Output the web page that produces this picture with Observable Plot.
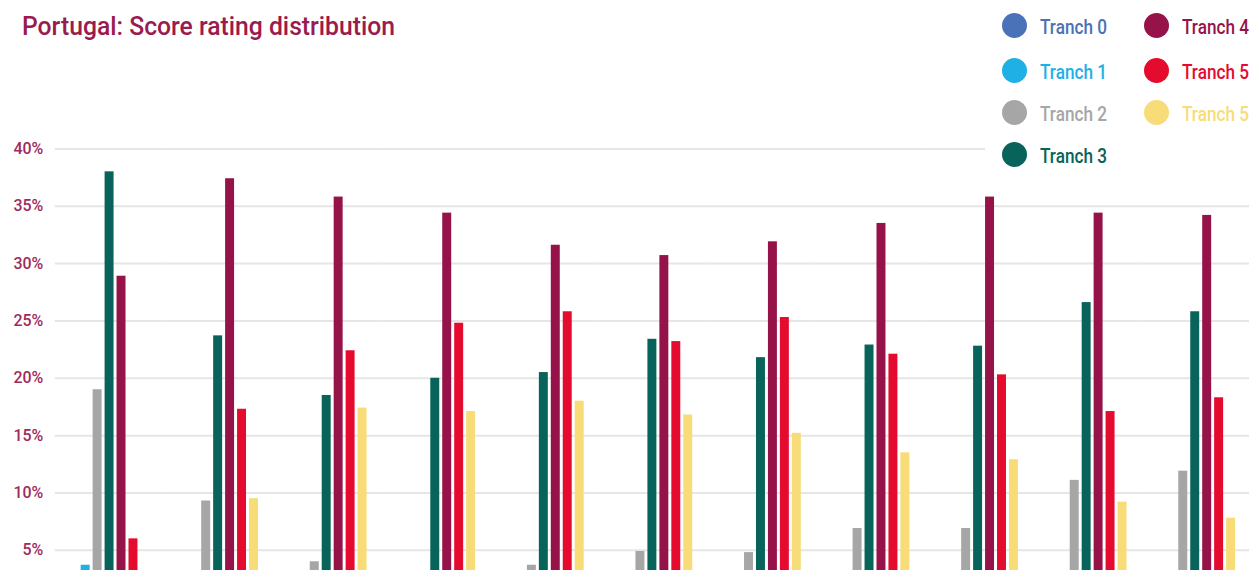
<!DOCTYPE html>
<html>
<head>
<meta charset="utf-8">
<script src="https://cdn.jsdelivr.net/npm/d3@7"></script>
<script src="https://cdn.jsdelivr.net/npm/@observablehq/plot@0.6"></script>
<style>
html, body { margin: 0; padding: 0; background: #fff; overflow: hidden; width: 1252px; height: 570px; }
#wrap { position: relative; width: 1252px; height: 570px; overflow: hidden; font-family: Roboto, "Noto Sans", sans-serif; }
#chart { position: absolute; left: 0; top: 0; }
#title { position: absolute; left: 22px; top: 12px; font-size: 25px; font-weight: 500; color: #9a1b4e; white-space: nowrap; transform-origin: 0 0; }
#legend { position: absolute; left: 985px; top: 0; width: 267px; height: 176px; background: #fff; }
.item { position: absolute; height: 26px; }
.dot { position: absolute; width: 25px; height: 25px; border-radius: 50%; left: 0; top: 0; }
.lab { position: absolute; left: 38px; top: 1px; line-height: 26px; font-size: 20px; font-weight: 500; white-space: nowrap; transform-origin: 0 50%; }
</style>
</head>
<body>
<div id="wrap">
  <div id="chart"></div>
  <div id="title">Portugal: Score rating distribution</div>
  <div id="legend"></div>
</div>
<script>
// Categories (x-axis groups, hidden below the visible crop)
const groups = ["G1", "G2", "G3", "G4", "G5", "G6", "G7", "G8", "G9", "G10", "G11"];
// Series keys, legend labels and colours
const seriesKeys = ["t0", "t1", "t2", "t3", "t4", "t5", "t5b"];
const seriesLabels = ["Tranch 0", "Tranch 1", "Tranch 2", "Tranch 3", "Tranch 4", "Tranch 5", "Tranch 5"];
const seriesColors = ["#4a72b8", "#1fb0e6", "#a6a6a6", "#08635b", "#961349", "#e40b2e", "#f7dc78"];
// Series values (%)
const tranch0 = [1.0, 0.8, 0.6, 0.5, 0.6, 0.8, 0.7, 0.9, 0.8, 1.0, 1.1];
const tranch1 = [3.7, 1.8, 1.5, 1.2, 1.4, 1.6, 1.5, 1.9, 1.8, 2.2, 2.4];
const tranch2 = [19.0, 9.3, 4.0, 3.0, 3.7, 4.9, 4.8, 6.9, 6.9, 11.1, 11.9];
const tranch3 = [38.0, 23.7, 18.5, 20.0, 20.5, 23.4, 21.8, 22.9, 22.8, 26.6, 25.8];
const tranch4 = [28.9, 37.4, 35.8, 34.4, 31.6, 30.7, 31.9, 33.5, 35.8, 34.4, 34.2];
const tranch5 = [6.0, 17.3, 22.4, 24.8, 25.8, 23.2, 25.3, 22.1, 20.3, 17.1, 18.3];
const tranch5b = [2.0, 9.5, 17.4, 17.1, 18.0, 16.8, 15.2, 13.5, 12.9, 9.2, 7.8];
// Y tick values
const yTicks = [5, 10, 15, 20, 25, 30, 35, 40];

const seriesValues = [tranch0, tranch1, tranch2, tranch3, tranch4, tranch5, tranch5b];
const data = groups.flatMap((g, i) => seriesKeys.map((k, j) => ({group: g, key: k, value: seriesValues[j][i]})));

const chart = Plot.plot({
  width: 1257,
  height: 650,
  marginTop: 149,
  marginBottom: 40.4,
  marginLeft: 52,
  marginRight: 0,
  style: {fontFamily: "Roboto, 'Noto Sans', sans-serif", background: "transparent"},
  fx: {domain: groups, padding: 0, axis: null},
  x: {domain: seriesKeys, paddingInner: 0.23, paddingOuter: 0.827, axis: null},
  y: {domain: [0, 40], axis: null},
  color: {domain: seriesKeys, range: seriesColors},
  marks: [
    Plot.gridY(yTicks, {stroke: "#e6e6e6", strokeOpacity: 1, strokeWidth: 2}),
    Plot.axisY(yTicks, {tickSize: 0, tickPadding: 12, tickFormat: d => d + "%", fill: "#a02a5c", fontSize: 16, fontWeight: 500, label: null}),
    Plot.barY(data, {fx: "group", x: "key", y: "value", fill: "key"})
  ]
});
document.getElementById("chart").appendChild(chart);

// Legend
const legend = document.getElementById("legend");
const legendPos = [
  [17, 13], [17, 58], [17, 100], [17, 142],
  [159, 13], [159, 58], [159, 100]
];
const labs = [];
seriesKeys.forEach((k, s) => {
  const it = document.createElement("div");
  it.className = "item";
  it.style.left = legendPos[s][0] + "px";
  it.style.top = legendPos[s][1] + "px";
  const dot = document.createElement("div");
  dot.className = "dot";
  dot.style.background = seriesColors[s];
  const lab = document.createElement("div");
  lab.className = "lab";
  lab.style.color = seriesColors[s];
  lab.textContent = seriesLabels[s];
  it.appendChild(dot);
  it.appendChild(lab);
  legend.appendChild(it);
  labs.push(lab);
});
// condense text to match the reference's narrow typeface
const lw = labs[0].getBoundingClientRect().width;
const ls = 67 / lw;
labs.forEach(l => l.style.transform = `scaleX(${ls})`);
const t = document.getElementById("title");
const tw = t.getBoundingClientRect().width;
t.style.transform = `scaleX(${373 / tw})`;
</script>
</body>
</html>
